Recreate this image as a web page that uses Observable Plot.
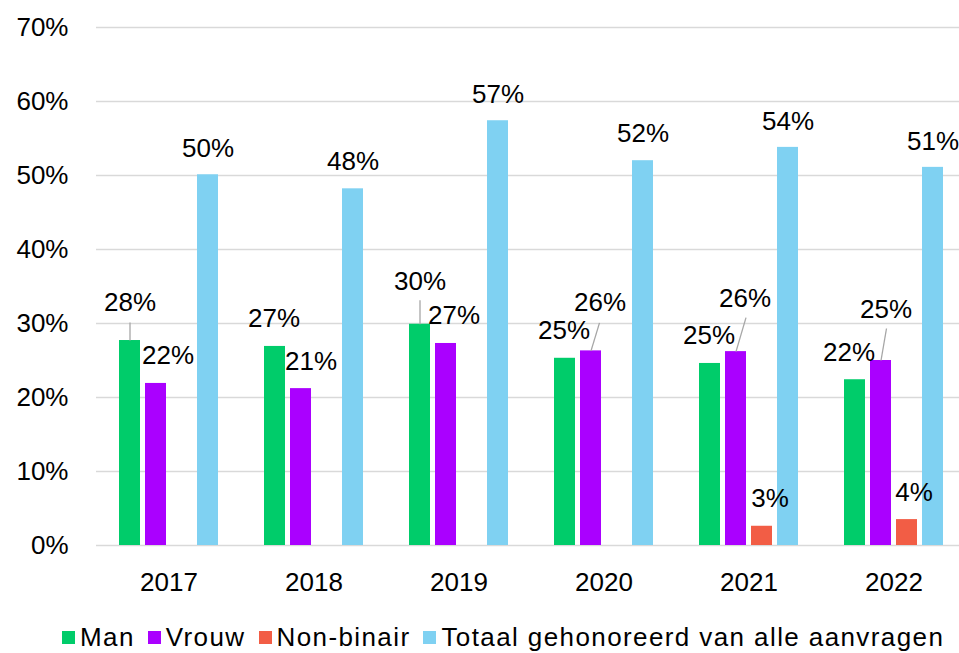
<!DOCTYPE html>
<html>
<head>
<meta charset="utf-8">
<script src="https://cdn.jsdelivr.net/npm/d3@7"></script>
<script src="https://cdn.jsdelivr.net/npm/@observablehq/plot@0.6"></script>
<style>
  html, body { margin: 0; padding: 0; background: #fff; overflow: hidden; width: 959px; }
  #chart > svg { display: block; max-width: none !important; }
  div.lg-swatches { font-family: "Liberation Sans", Arial, sans-serif !important; font-size: 26px !important; color: #000;
    letter-spacing: 1.4px; margin: 0 !important; padding-left: 62px; height: 74px; min-height: 74px; align-items: center; }
  span.lg-swatch { margin-right: 13px !important; }
  span.lg-swatch > svg { margin-right: 5px !important; }
</style>
</head>
<body>
<div id="chart"></div>
<script>
const years = ["2017", "2018", "2019", "2020", "2021", "2022"];
const series = ["Man", "Vrouw", "Non-binair", "Totaal gehonoreerd van alle aanvragen"];
const man = [27.7, 26.9, 29.9, 25.3, 24.6, 22.4];
const vrouw = [21.9, 21.2, 27.3, 26.3, 26.2, 25.0];
const nonBinair = [null, null, null, null, 2.6, 3.5];
const totaal = [50.1, 48.2, 57.4, 52.0, 53.8, 51.1];
const colors = ["#00cc6a", "#aa00ff", "#f25d45", "#7fd1f2"];
const yTicks = [0, 10, 20, 30, 40, 50, 60, 70];

// label placement (dx, dy in px relative to bar top centre), per series per year
const labelOffsets = [
  [[0, -38], [-1, -28], [0, -43], [-1, -28], [-1, -28], [-6, -27]],
  [[12, -28], [10, -27], [8, -28], [9, -48], [9, -53], [5, -51]],
  [null, null, null, null, [8, -28], [7, -27]],
  [[0, -26], [0, -27], [0, -26], [0, -27], [0, -26], [0, -26]]
];
// leader lines: [seriesIndex, yearIndex, dx, dy] from bar top to label
const leaderDefs = [[0, 0, 0, -18], [0, 2, 0, -24], [1, 3, 8.5, -28], [1, 4, 10, -34], [1, 5, 5.5, -32]];

const valuesBySeries = [man, vrouw, nonBinair, totaal];
const data = [];
years.forEach((year, yi) => series.forEach((s, si) => {
  const v = valuesBySeries[si][yi];
  if (v != null) data.push({year, series: s, value: v, si, yi});
}));

const leaders = leaderDefs.map(([si, yi, dx, dy]) => ({year: years[yi], series: series[si], value: valuesBySeries[si][yi], dx, dy}));

const labelMarks = data.map(d => {
  const [dx, dy] = labelOffsets[d.si][d.yi];
  return Plot.text([d], {fx: "year", x: "series", y: "value", text: d => Math.round(d.value) + "%", dx, dy, fill: "#000", lineAnchor: "middle"});
});

const plot = Plot.plot({
  width: 968,
  height: 600,
  marginLeft: 94,
  marginRight: 1,
  marginTop: 27,
  marginBottom: 55,
  style: {fontFamily: "'Liberation Sans', Arial, sans-serif", fontSize: "26px", color: "#000", background: "#fff", overflow: "visible"},
  fx: {domain: years, padding: 0},
  x: {domain: series, paddingInner: 0.21, paddingOuter: 0.85, axis: null},
  y: {domain: [0, 70]},
  color: {domain: series, range: colors},
  marks: [
    Plot.gridY(yTicks, {stroke: "#d9d9d9", strokeOpacity: 1, strokeWidth: 1.5}),
    Plot.axisY(yTicks, {tickSize: 0, tickPadding: 28, tickFormat: d => d + "%", label: null, fill: "#000"}),
    Plot.axisFx({anchor: "bottom", tickSize: 0, tickPadding: 27, label: null, fill: "#000"}),
    Plot.barY(data, {fx: "year", x: "series", y: "value", fill: "series"}),
    Plot.link(leaders, {
      fx: "year", x1: "series", x2: "series", y1: "value", y2: "value",
      stroke: "#a6a6a6", strokeWidth: 1.3,
      render(index, scales, values, dimensions, context, next) {
        const x1 = Float64Array.from(values.x1, (x, i) => x + leaders[i].dx);
        const y1 = Float64Array.from(values.y1, (y, i) => y + leaders[i].dy);
        return next(index, scales, {...values, x1, y1}, dimensions, context);
      }
    }),
    ...labelMarks
  ]
});

const chart = document.getElementById("chart");
chart.appendChild(plot);
chart.appendChild(plot.legend("color", {swatchSize: 13, className: "lg"}));
</script>
</body>
</html>
